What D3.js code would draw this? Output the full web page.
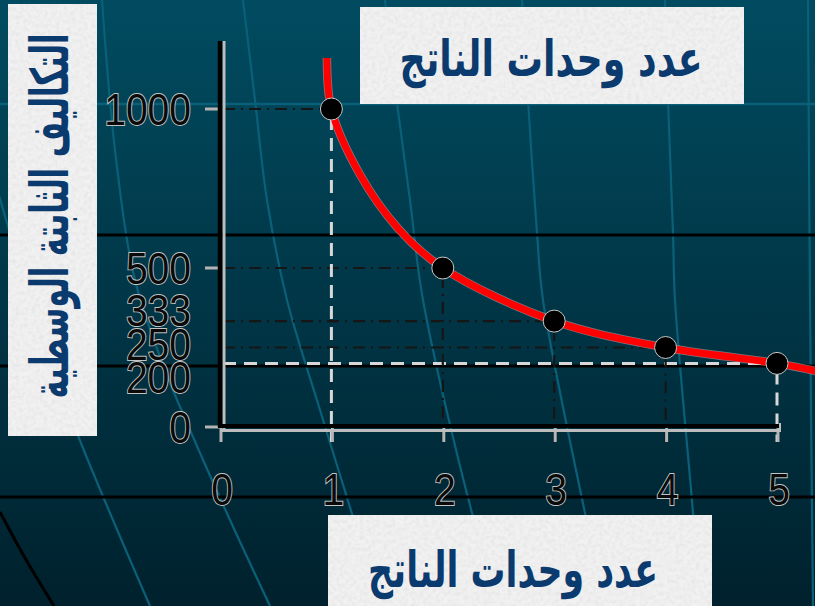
<!DOCTYPE html>
<html><head><meta charset="utf-8">
<script src="https://cdn.jsdelivr.net/npm/d3@7"></script>
<style>html,body{margin:0;padding:0;background:#012f3d;overflow:hidden}svg{display:block}</style>
</head><body>
<svg id="c" width="815" height="606"></svg>
<script>
// ---------- data ----------
const xValues = [1, 2, 3, 4, 5];
const yValues = [1000, 500, 333, 250, 200];
const xTickLabels = ["0", "1", "2", "3", "4", "5"];
const yTickLabels = ["1000", "500", "333", "250", "200", "0"];
const yTickMarks = [0, 500, 1000];
const curveX = [0.96, 1, 1.25, 1.6, 2, 3, 4, 5, 5.4];
const curveY = [1160, 1000, 798, 624, 500, 333, 250, 200, 172];
const xTitle = "عدد وحدات الناتج";
const yTitle = "التكاليف الثابتة الوسطية";
// styles for guides (per point)
const hGuideKind = ["dashdot", "dashdot", "dashdot", "dashdot", "light"];
const vGuideKind = ["light", "dashdot", "dashdot", "dashdot", "light"];

// ---------- setup ----------
const W = 815, H = 606;
const svg = d3.select("#c");
const defs = svg.append("defs");
const bg = defs.append("linearGradient").attr("id", "bg").attr("x1", 0).attr("y1", 0).attr("x2", 0).attr("y2", 1);
bg.append("stop").attr("offset", "0%").attr("stop-color", "#014b60");
bg.append("stop").attr("offset", "100%").attr("stop-color", "#00212d");
const f = defs.append("filter").attr("id", "paper").attr("x", 0).attr("y", 0).attr("width", 1).attr("height", 1);
f.append("feTurbulence").attr("type", "fractalNoise").attr("baseFrequency", 0.25).attr("numOctaves", 2).attr("seed", 5).attr("result", "n");
f.append("feColorMatrix").attr("in", "n").attr("type", "matrix")
  .attr("values", "0 0 0 0 0.65  0 0 0 0 0.65  0 0 0 0 0.65  0.8 0 0 0 -0.3").attr("result", "sp");
f.append("feComposite").attr("in", "sp").attr("in2", "SourceGraphic").attr("operator", "in").attr("result", "sp2");
const fm = f.append("feMerge");
fm.append("feMergeNode").attr("in", "SourceGraphic");
fm.append("feMergeNode").attr("in", "sp2");

svg.append("rect").attr("width", W).attr("height", H).attr("fill", "url(#bg)");

// decorative slide background lines
const meridians = [
  [[102,0],[115,150],[135,280],[165,370],[190,430],[230,520],[270,606]],
  [[-8,170],[7,223],[40,330],[77,433],[150,606]],
  [[243,0],[255,100],[267,200],[287,300],[320,410],[353,517],[380,606]],
  [[385,0],[397,103],[410,200],[423,300],[472,513],[500,606]],
  [[522,0],[528,100],[537,233],[543,300],[585,513],[605,606]],
  [[665,0],[668,100],[673,233],[675,300],[693,513],[700,606]],
  [[808,0],[810,300],[813,606]]
];
const ln = d3.line().curve(d3.curveCatmullRom);
const deco = svg.append("g");
deco.selectAll("path.m").data(meridians).join("path").attr("class", "m")
  .attr("d", ln).attr("fill", "none").attr("stroke", "#0a6079").attr("stroke-width", 2.2);
deco.append("line").attr("x1", 0).attr("x2", W).attr("y1", 104).attr("y2", 104).attr("stroke", "#0a6079").attr("stroke-width", 2.5);
[235, 366, 497].forEach(y => deco.append("line").attr("x1", 0).attr("x2", W).attr("y1", y).attr("y2", y).attr("stroke", "#000").attr("stroke-width", 3));
deco.append("path").attr("d", ln([[0,512],[25,558],[54,606]])).attr("fill", "none").attr("stroke", "#000").attr("stroke-width", 3);

// ---------- scales ----------
const x = d3.scaleLinear().domain([0, 5]).range([220, 777]);
const y = d3.scaleLinear().domain([0, 1000]).range([427, 109]);
const pts = xValues.map((v, i) => ({ x: v, y: yValues[i], h: hGuideKind[i], v: vGuideKind[i] }));

const g = svg.append("g");
function guideStyle(sel, kind) {
  if (kind === "light") sel.attr("stroke", "#d8d8d8").attr("stroke-width", 3).attr("stroke-dasharray", "13,8");
  else sel.attr("stroke", "#161616").attr("stroke-width", 2.2).attr("stroke-dasharray", "12,6,2,6");
}
pts.forEach(p => {
  const l = g.append("line").attr("x1", x(0) + 3).attr("x2", x(p.x)).attr("y1", y(p.y)).attr("y2", y(p.y));
  guideStyle(l, p.h);
});
pts.forEach(p => {
  const l = g.append("line").attr("x1", x(p.x)).attr("x2", x(p.x)).attr("y1", y(p.y) + 8).attr("y2", y(0) + 15);
  guideStyle(l, p.v);
});

// ---------- axes ----------
const ax = svg.append("g");
ax.selectAll("line.yt").data(yTickMarks).join("line").attr("class", "yt")
  .attr("x1", x(0) - 15).attr("x2", x(0)).attr("y1", d => y(d)).attr("y2", d => y(d))
  .attr("stroke", "#b5b5b5").attr("stroke-width", 3);
ax.selectAll("line.xt").data(xTickLabels).join("line").attr("class", "xt")
  .attr("x1", d => x(+d) + 1).attr("x2", d => x(+d) + 1).attr("y1", y(0)).attr("y2", y(0) + 15)
  .attr("stroke", "#b5b5b5").attr("stroke-width", 3);
ax.append("line").attr("x1", x(0) + 4).attr("x2", x(0) + 4).attr("y1", 41).attr("y2", y(0) + 3).attr("stroke", "#bdbdbd").attr("stroke-width", 3);
ax.append("line").attr("x1", x(0)).attr("x2", x(0)).attr("y1", 41).attr("y2", y(0)).attr("stroke", "#000").attr("stroke-width", 4.5);
ax.append("line").attr("x1", x(0)).attr("x2", x(5) + 3).attr("y1", y(0) + 3.5).attr("y2", y(0) + 3.5).attr("stroke", "#bdbdbd").attr("stroke-width", 3);
ax.append("line").attr("x1", x(0) - 2).attr("x2", x(5) + 3).attr("y1", y(0) - 1).attr("y2", y(0) - 1).attr("stroke", "#000").attr("stroke-width", 4);
ax.append("line").attr("x1", x(5) + 3).attr("x2", x(5) + 3).attr("y1", y(0) - 4).attr("y2", y(0) + 5).attr("stroke", "#bdbdbd").attr("stroke-width", 2);

// ---------- labels ----------
const FS = 39, SY = 1.13;
function numLabel(px, cy, txt, anchor) {
  svg.append("text").attr("transform", `translate(${px},${cy}) scale(1,${SY})`)
    .attr("y", FS * 0.358).attr("text-anchor", anchor)
    .attr("font-family", "'Liberation Sans', Arial, sans-serif").attr("font-size", FS)
    .attr("fill", "#0a0a0a").attr("stroke", "#c4c4c4").attr("stroke-width", 1.7)
    .attr("paint-order", "stroke").text(txt);
}
const minGap = 33.5;
let items = yTickLabels.map(t => ({ t, p: y(+t) })).sort((a, b) => a.p - b.p);
let clusters = items.map(it => ({ members: [it], c: it.p }));
let changed = true;
while (changed) {
  changed = false;
  for (let i = 0; i < clusters.length - 1; i++) {
    const a = clusters[i], b = clusters[i + 1];
    const aEnd = a.c + (a.members.length - 1) * minGap / 2;
    const bStart = b.c - (b.members.length - 1) * minGap / 2;
    if (bStart - aEnd < minGap) {
      const members = a.members.concat(b.members);
      const c = d3.mean(members, m => m.p);
      clusters.splice(i, 2, { members, c });
      changed = true; break;
    }
  }
}
clusters.forEach(cl => {
  const n = cl.members.length;
  cl.members.forEach((m, k) => numLabel(191, cl.c + (k - (n - 1) / 2) * minGap, m.t, "end"));
});
xTickLabels.forEach(t => numLabel(x(+t) + 2, 489, t, "middle"));

// ---------- curve & points ----------
const curvePts = curveX.map((v, i) => [x(v), y(curveY[i])]);
const cl = d3.line().curve(d3.curveCatmullRom.alpha(0.5));
svg.append("path").attr("d", cl(curvePts)).attr("fill", "none").attr("stroke", "#ffb3b3").attr("stroke-width", 8.5).attr("opacity", 0.5);
svg.append("path").attr("d", cl(curvePts)).attr("fill", "none").attr("stroke", "#ff0000").attr("stroke-width", 7);
svg.selectAll("circle.pt").data(pts).join("circle").attr("class", "pt")
  .attr("cx", d => x(d.x)).attr("cy", d => y(d.y)).attr("r", 11)
  .attr("fill", "#000").attr("stroke", "#c8c8c8").attr("stroke-width", 1);

// ---------- title boxes ----------
function box(x0, y0, w, h) {
  svg.append("rect").attr("x", x0).attr("y", y0).attr("width", w).attr("height", h)
    .attr("fill", "#f1f1f1").attr("filter", "url(#paper)");
}
function arText(cx, cy, txt, targetW, rot, fs) {
  const t = svg.append("text").attr("text-anchor", "middle").attr("direction", "rtl")
    .attr("font-family", "'DejaVu Sans', 'Liberation Serif', serif").attr("font-weight", "bold")
    .attr("font-size", fs).attr("fill", "#0a3a6e").attr("dominant-baseline", "central").text(txt);
  const w = t.node().getComputedTextLength();
  const s = targetW / w;
  t.attr("transform", `translate(${cx},${cy}) rotate(${rot}) scale(${s},1)`);
}
box(360, 7, 384, 97);
box(8, 4, 89, 432);
box(328, 515, 384, 91);
arText(551, 58, xTitle, 303, 0, 50);
arText(513, 570, xTitle, 290, 0, 50);
arText(50, 216, yTitle, 365, -90, 52);
</script>
</body></html>
